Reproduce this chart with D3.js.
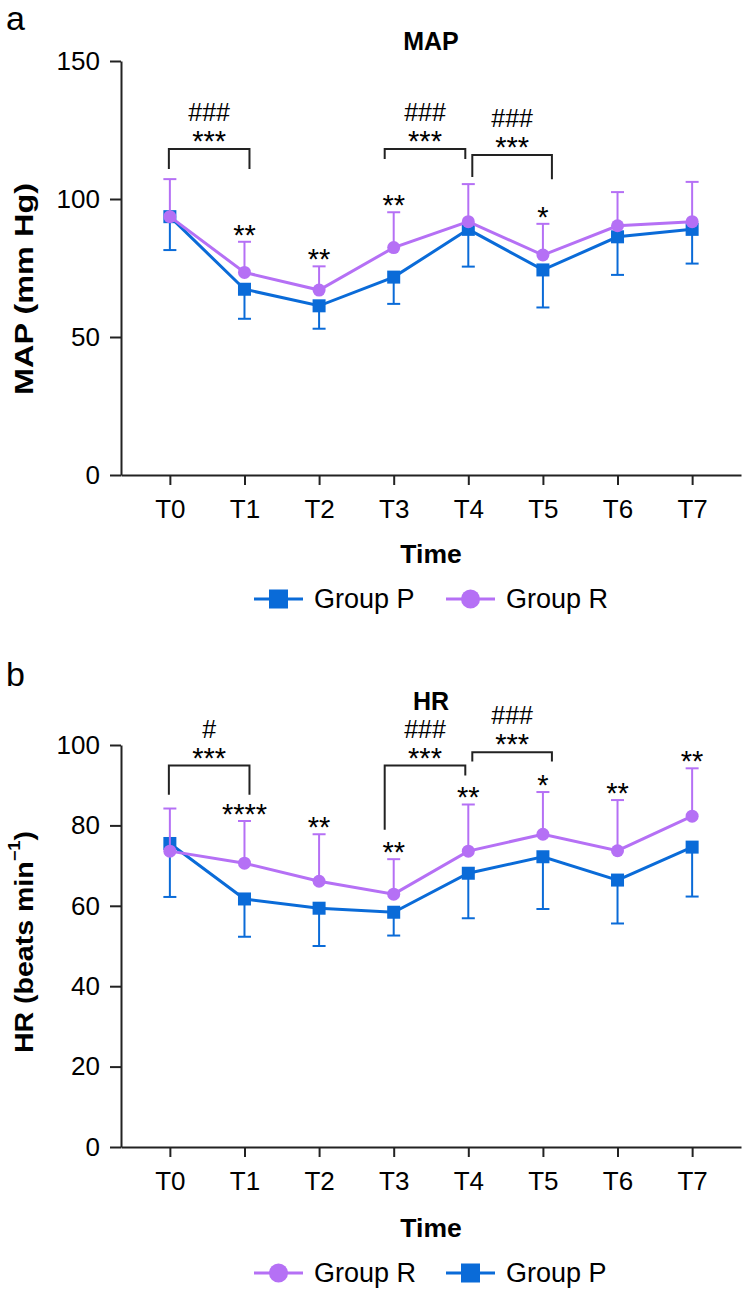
<!DOCTYPE html>
<html>
<head>
<meta charset="utf-8">
<script src="https://cdn.jsdelivr.net/npm/d3@7"></script>
<style>
  body { margin: 0; background: #fff; }
  svg text { font-family: "Liberation Sans", Arial, Helvetica, sans-serif; fill: #000; }
</style>
</head>
<body>
<div id="container"></div>
<script>
// time points on the x axis
const timePoints = ["T0", "T1", "T2", "T3", "T4", "T5", "T6", "T7"];

// MAP (mm Hg), mean and SD
const mapGroupP = [93.6, 67.3, 61.3, 71.7, 89.0, 74.3, 86.3, 89.0];
const mapGroupPSd = [12.1, 10.7, 8.3, 9.7, 13.5, 13.6, 13.8, 12.4];
const mapGroupR = [93.6, 73.4, 67.0, 82.4, 91.8, 79.7, 90.3, 91.8];
const mapGroupRSd = [13.6, 11.1, 8.6, 12.8, 13.6, 11.3, 12.2, 14.4];
const mapTicks = [0, 50, 100, 150];
const mapStars = ["", "**", "**", "**", "", "*", "", ""];
const mapBrackets = [
  { from: 0, to: 1, level: 118.1, legs: [110.9, 110.9], stars: "***", hash: "###" },
  { from: 3, to: 4, level: 118.1, legs: [114.5, 114.5], stars: "***", hash: "###" },
  { from: 4, to: 5, level: 115.9, legs: [108.0, 107.2], stars: "***", hash: "###" },
];

// HR (beats/min), mean and SD
const hrGroupP = [75.5, 61.7, 59.4, 58.4, 68.1, 72.2, 66.4, 74.6];
const hrGroupPSd = [13.3, 9.4, 9.4, 5.8, 11.2, 13.0, 10.8, 12.3];
const hrGroupR = [73.6, 70.6, 66.1, 62.9, 73.6, 77.8, 73.7, 82.3];
const hrGroupRSd = [10.6, 10.5, 11.7, 8.7, 11.6, 10.5, 12.6, 11.9];
const hrTicks = [0, 20, 40, 60, 80, 100];
const hrStars = ["", "****", "**", "**", "**", "*", "**", "**"];
const hrBrackets = [
  { from: 0, to: 1, level: 94.9, legs: [87.6, 87.6], stars: "***", hash: "#" },
  { from: 3, to: 4, level: 94.9, legs: [78.9, 92.4], stars: "***", hash: "###" },
  { from: 4, to: 5, level: 98.2, legs: [95.9, 95.9], stars: "***", hash: "###" },
];

// small pixel nudges for bracket ends (GraphPad style offsets)
const bracketNudge = [[-1, 5], [-9, -3], [4, 9]];

const colors = { P: "#0a6bd8", R: "#b570f5" };
const width = 744, height = 1290;
const axisLeft = 121, axisRight = 741;

const svg = d3.select("#container").append("svg")
  .attr("width", width)
  .attr("height", height);

function drawPanel(cfg) {
  const g = svg.append("g");

  const x = d3.scalePoint().domain(timePoints).range([axisLeft, axisRight]).padding(0.655);
  const y = d3.scaleLinear().domain([0, d3.max(cfg.ticks)]).range([cfg.bottom, cfg.top]);

  // axes
  const yAxis = g.append("g")
    .attr("transform", `translate(${axisLeft},0)`)
    .call(d3.axisLeft(y).tickValues(cfg.ticks).tickSize(11).tickSizeOuter(0).tickPadding(10));
  const xAxis = g.append("g")
    .attr("transform", `translate(0,${cfg.bottom})`)
    .call(d3.axisBottom(x).tickSize(10).tickSizeOuter(0).tickPadding(15));
  [yAxis, xAxis].forEach(function (a) {
    a.select(".domain").attr("stroke", "#222").attr("stroke-width", 2);
    a.selectAll(".tick line").attr("stroke", "#222").attr("stroke-width", 2);
    a.selectAll(".tick text").attr("font-size", 26).attr("fill", "#111");
  });

  // panel letter + title
  g.append("text").attr("x", 6).attr("y", cfg.letterY)
    .attr("font-size", 34).text(cfg.letter);
  g.append("text").attr("x", (axisLeft + axisRight) / 2).attr("y", cfg.titleY)
    .attr("text-anchor", "middle").attr("font-size", 25).attr("font-weight", "bold")
    .text(cfg.title);

  // y label
  const yl = g.append("text")
    .attr("transform", `translate(24,${cfg.yLabelMid}) rotate(-90)`)
    .attr("text-anchor", "middle").attr("dominant-baseline", "central")
    .attr("font-size", 25).attr("font-weight", "bold")
    .attr("textLength", cfg.yLabelLen).attr("lengthAdjust", "spacingAndGlyphs");
  yl.append("tspan").text(cfg.yLabel);
  if (cfg.ySup) {
    yl.append("tspan").attr("dy", -10).attr("font-size", 16).text(cfg.ySup);
    yl.append("tspan").attr("dy", 10).text(")");
  }

  // x label
  g.append("text").attr("x", (axisLeft + axisRight) / 2).attr("y", cfg.timeY)
    .attr("text-anchor", "middle").attr("font-size", 26.5).attr("font-weight", "bold")
    .text("Time");

  const line = d3.line()
    .x(function (d, i) { return x(timePoints[i]); })
    .y(function (d) { return y(d); });

  // group P: error bars downward, square markers
  const pg = g.append("g");
  cfg.p.forEach(function (m, i) {
    const cx = x(timePoints[i]);
    const yb = y(m - cfg.pSd[i]);
    pg.append("line").attr("x1", cx).attr("x2", cx).attr("y1", y(m)).attr("y2", yb)
      .attr("stroke", colors.P).attr("stroke-width", 2);
    pg.append("line").attr("x1", cx - 6.5).attr("x2", cx + 6.5).attr("y1", yb).attr("y2", yb)
      .attr("stroke", colors.P).attr("stroke-width", 2);
  });
  pg.append("path").datum(cfg.p).attr("d", line)
    .attr("fill", "none").attr("stroke", colors.P).attr("stroke-width", 3);
  pg.selectAll(".sq").data(cfg.p).enter().append("rect")
    .attr("x", function (d, i) { return x(timePoints[i]) - 6.5; })
    .attr("y", function (d) { return y(d) - 6.5; })
    .attr("width", 13).attr("height", 13)
    .attr("fill", colors.P);

  // group R: error bars upward, circle markers
  const rg = g.append("g");
  cfg.r.forEach(function (m, i) {
    const cx = x(timePoints[i]);
    const yt = y(m + cfg.rSd[i]);
    rg.append("line").attr("x1", cx).attr("x2", cx).attr("y1", y(m)).attr("y2", yt)
      .attr("stroke", colors.R).attr("stroke-width", 2);
    rg.append("line").attr("x1", cx - 6.5).attr("x2", cx + 6.5).attr("y1", yt).attr("y2", yt)
      .attr("stroke", colors.R).attr("stroke-width", 2);
  });
  rg.append("path").datum(cfg.r).attr("d", line)
    .attr("fill", "none").attr("stroke", colors.R).attr("stroke-width", 3);
  rg.selectAll(".dot").data(cfg.r).enter().append("circle")
    .attr("cx", function (d, i) { return x(timePoints[i]); })
    .attr("cy", function (d) { return y(d); })
    .attr("r", 6.5)
    .attr("fill", colors.R);

  // significance stars above group R error bars
  cfg.stars.forEach(function (s, i) {
    if (!s) return;
    g.append("text")
      .attr("x", x(timePoints[i]))
      .attr("y", y(cfg.r[i] + cfg.rSd[i]) + 3)
      .attr("text-anchor", "middle").attr("font-size", 29)
      .text(s);
  });

  // brackets
  cfg.brackets.forEach(function (b, k) {
    const x1 = x(timePoints[b.from]) + bracketNudge[k][0];
    const x2 = x(timePoints[b.to]) + bracketNudge[k][1];
    const yl = y(b.level);
    g.append("path")
      .attr("d", `M${x1},${y(b.legs[0])}V${yl}H${x2}V${y(b.legs[1])}`)
      .attr("fill", "none").attr("stroke", "#222").attr("stroke-width", 2);
    const mid = (x1 + x2) / 2;
    g.append("text").attr("x", mid).attr("y", yl + 2)
      .attr("text-anchor", "middle").attr("font-size", 29)
      .text(b.stars);
    g.append("text").attr("x", mid).attr("y", yl - 28)
      .attr("text-anchor", "middle").attr("font-size", 25)
      .text(b.hash);
  });

  // legend
  cfg.legend.forEach(function (key, k) {
    const lx = 254 + k * 192;
    const ly = cfg.legendY;
    const lg = g.append("g");
    lg.append("line").attr("x1", lx).attr("x2", lx + 49).attr("y1", ly).attr("y2", ly)
      .attr("stroke", colors[key]).attr("stroke-width", 3);
    if (key === "P") {
      lg.append("rect").attr("x", lx + 24.5 - 9.5).attr("y", ly - 9.5)
        .attr("width", 19).attr("height", 19).attr("fill", colors.P);
    } else {
      lg.append("circle").attr("cx", lx + 24.5).attr("cy", ly).attr("r", 9.5)
        .attr("fill", colors.R);
    }
    lg.append("text").attr("x", lx + 60).attr("y", ly + 9)
      .attr("font-size", 27).text("Group " + key);
  });
}

drawPanel({
  letter: "a", title: "MAP", yLabel: "MAP (mm Hg)", yLabelMid: 289, yLabelLen: 212,
  top: 61, bottom: 475, letterY: 30, titleY: 50, timeY: 563, legendY: 599,
  ticks: mapTicks,
  p: mapGroupP, pSd: mapGroupPSd, r: mapGroupR, rSd: mapGroupRSd,
  stars: mapStars, brackets: mapBrackets, legend: ["P", "R"],
});

drawPanel({
  letter: "b", title: "HR", yLabel: "HR (beats min", ySup: "\u22121", yLabelMid: 942, yLabelLen: 222,
  top: 745, bottom: 1147, letterY: 686, titleY: 710, timeY: 1237, legendY: 1273,
  ticks: hrTicks,
  p: hrGroupP, pSd: hrGroupPSd, r: hrGroupR, rSd: hrGroupRSd,
  stars: hrStars, brackets: hrBrackets, legend: ["R", "P"],
});
</script>
</body>
</html>
